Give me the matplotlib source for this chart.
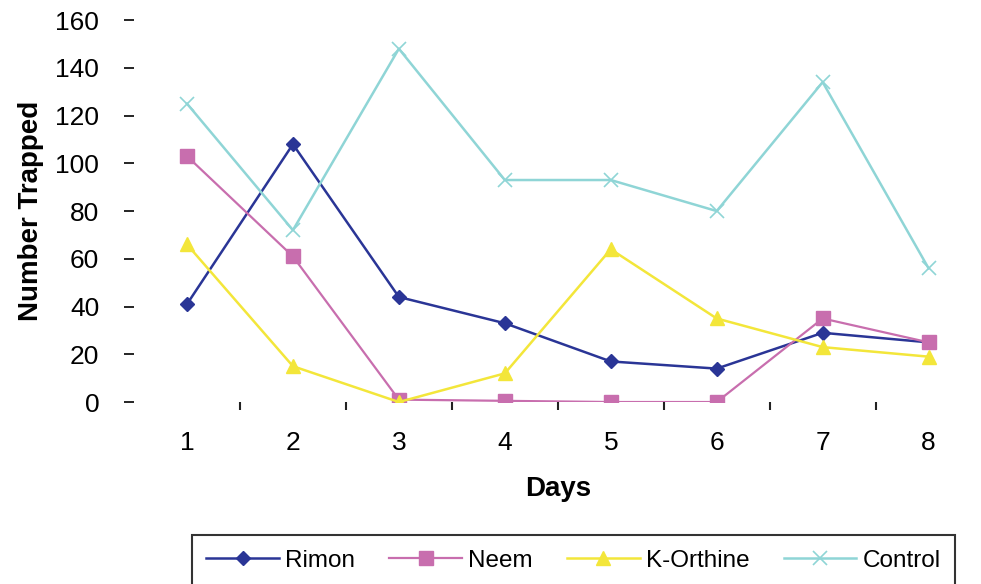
import matplotlib
matplotlib.use("Agg")
import matplotlib.pyplot as plt
from matplotlib.ticker import FixedLocator

plt.rcParams['font.family'] = ['Liberation Sans', 'DejaVu Sans']

days = [1, 2, 3, 4, 5, 6, 7, 8]
rimon = [41, 108, 44, 33, 17, 14, 29, 25]
neem = [103, 61, 1, 0.5, 0, 0, 35, 25]
k_orthine = [66, 15, 0, 12, 64, 35, 23, 19]
control = [125, 72, 148, 93, 93, 80, 134, 56]

fig = plt.figure(figsize=(9.81, 5.84), dpi=100)
ax = fig.add_axes([0.1366, 0.3116, 0.864, 0.654])

l1, = ax.plot(days, rimon, color='#2a3596', marker='D', markersize=7, lw=1.8, label='Rimon')
l2, = ax.plot(days, neem, color='#c86eae', marker='s', markersize=10, lw=1.6, label='Neem')
l3, = ax.plot(days, k_orthine, color='#f3e63a', marker='^', markersize=10, lw=1.8, label='K-Orthine')
l4, = ax.plot(days, control, color='#8fd5d6', marker='x', markersize=10, mew=1.2, lw=1.8, label='Control')

ax.set_xlim(0.5, 8.5)
ax.set_ylim(0, 160)
ax.set_yticks(range(0, 161, 20))
ax.set_xticks(days)
ax.xaxis.set_minor_locator(FixedLocator([1.5, 2.5, 3.5, 4.5, 5.5, 6.5, 7.5]))

for s in ax.spines.values():
    s.set_visible(False)

ax.tick_params(axis='y', labelsize=19, length=7, width=1.2, pad=18, colors='black')
ax.tick_params(axis='x', which='major', labelsize=19, length=0, pad=21)
ax.tick_params(axis='x', which='minor', length=6, width=1.5, direction='out', color='#222222')

ax.set_ylabel('Number Trapped', fontsize=20, fontweight='bold', labelpad=8)
ax.set_xlabel('Days', fontsize=20, fontweight='bold', labelpad=15)

leg = fig.legend(handles=[l1, l2, l3, l4], loc='center left', bbox_to_anchor=(0.183, 0.04),
                 ncol=4, fontsize=17.5, frameon=True, fancybox=False, handlelength=3.0,
                 handletextpad=0.25, columnspacing=1.4, borderpad=0.6)
leg.get_frame().set_edgecolor('black')
leg.get_frame().set_linewidth(1.5)

fig.savefig('out.png', dpi=100)
